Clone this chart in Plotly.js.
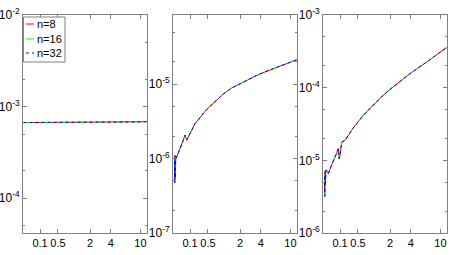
<!DOCTYPE html>
<html>
<head>
<meta charset="utf-8">
<script src="https://cdn.plot.ly/plotly-3.0.1.min.js"></script>
<style>
  html, body { margin: 0; padding: 0; background: #fff; }
  #gd { width: 457px; height: 255px; }
</style>
</head>
<body>
<div id="gd"></div>
<script>
// x quantity is drawn on a log axis of (t + T_SHIFT)
var T_SHIFT = 0.5;
var tickLabels = [0.1, 0.5, 2, 4, 10];

// panel 1: flat error level
var t1 = [-0.125, 0.1, 0.5, 1, 2, 4, 6, 8, 10, 12.5];
var err1 = [6.7e-4, 6.7e-4, 6.7e-4, 6.7e-4, 6.72e-4, 6.75e-4, 6.78e-4, 6.8e-4, 6.82e-4, 6.85e-4];
var yTicks1 = [-4, -3, -2];

// panel 2
var t2 = [-0.115, -0.112, -0.109, -0.106, -0.103, -0.1, -0.09, -0.05, -0.005, 0.02, 0.046,
          0.07, 0.1, 0.14, 0.192, 0.24, 0.299, 0.422, 0.595, 0.8, 1.056, 1.441, 2.011, 2.657,
          3.551, 4.635, 6.012, 8.604, 12.34];
var err2 = [9.0e-7, 4.7e-7, 1.1e-6, 5.5e-7, 8.5e-7, 1.0e-6, 1.05e-6, 1.33e-6, 1.77e-6, 2.07e-6, 1.77e-6,
            1.95e-6, 2.18e-6, 2.5e-6, 2.96e-6, 3.2e-6, 3.61e-6, 4.34e-6, 5.23e-6, 6.23e-6, 7.4e-6,
            8.83e-6, 1.02e-5, 1.16e-5, 1.32e-5, 1.47e-5, 1.62e-5, 1.87e-5, 2.15e-5];
var yTicks2 = [-7, -6, -5];

// panel 3
var t3 = [-0.115, -0.112, -0.108, -0.104, -0.1, -0.09, -0.07, -0.04, -0.005, 0.035, 0.071,
          0.085, 0.1, 0.13, 0.193, 0.277, 0.378, 0.505, 0.669, 0.916, 1.216, 1.555, 2.011,
          2.844, 4.079, 6.012, 8.602, 12.52];
var err3 = [6.0e-6, 3.2e-6, 7.0e-6, 4.5e-6, 7.3e-6, 7.3e-6, 6.6e-6, 8.0e-6, 9.5e-6, 1.2e-5, 1.45e-5,
            1.05e-5, 1.17e-5, 1.79e-5, 1.89e-5, 2.32e-5, 2.81e-5, 3.4e-5, 4.18e-5, 5.21e-5, 6.51e-5,
            7.88e-5, 9.53e-5, 1.23e-4, 1.61e-4, 2.11e-4, 2.76e-4, 3.68e-4];
var yTicks3 = [-6, -5, -4, -3];

// the three resolutions overlap at this scale
var seriesNames = ["n=8", "n=16", "n=32"];
var seriesColors = ["#ff0000", "#00ff00", "#0000ff"];
var seriesDash = ["solid", "dash", "dot"];

var panels = [
  {t: t1, v: err1, yrange: [-4.38, -2], yticks: yTicks1},
  {t: t2, v: err2, yrange: [-7, -4.07], yticks: yTicks2},
  {t: t3, v: err3, yrange: [-6, -3], yticks: yTicks3}
];

var W = 457, H = 255;
var px = function (x) { return x / W; };
var py = function (y) { return 1 - y / H; };

var font = {family: "Liberation Sans, Arial, sans-serif", size: 11, color: "#000"};
var yFont = {family: "Liberation Sans, Arial, sans-serif", size: 12, color: "#000"};
var frame = "#808080";

var traces = [];
panels.forEach(function (p, i) {
  var sfx = i === 0 ? "" : String(i + 1);
  seriesNames.forEach(function (name, k) {
    traces.push({
      type: "scatter",
      mode: "lines",
      name: name,
      x: p.t.map(function (t) { return t + T_SHIFT; }),
      y: p.v,
      xaxis: "x" + sfx,
      yaxis: "y" + sfx,
      line: {color: seriesColors[k], dash: seriesDash[k], width: 1},
      showlegend: false
    });
  });
});

var layout = {
  width: W,
  height: H,
  margin: {l: 0, r: 0, t: 0, b: 0},
  paper_bgcolor: "#fff",
  plot_bgcolor: "#fff",
  showlegend: false,
  font: font,
  shapes: [],
  annotations: []
};

var xLefts = [23, 173, 323];
panels.forEach(function (p, i) {
  var sfx = i === 0 ? "" : String(i + 1);
  layout["xaxis" + sfx] = {
    type: "log",
    domain: [px(xLefts[i]), px(xLefts[i] + 124)],
    anchor: "y" + sfx,
    range: [-0.433, 1.102],
    tickmode: "array",
    tickvals: tickLabels.map(function (t) { return t + T_SHIFT; }),
    ticktext: tickLabels.map(String),
    ticks: "inside", ticklen: 4, tickcolor: frame,
    showline: true, linecolor: frame, linewidth: 1, mirror: "allticks",
    showgrid: false, zeroline: false,
    tickfont: font
  };
  layout["yaxis" + sfx] = {
    type: "log",
    domain: [py(233), py(15)],
    anchor: "x" + sfx,
    range: p.yrange,
    tickmode: "array",
    tickvals: p.yticks.map(function (e) { return Math.pow(10, e); }),
    ticktext: p.yticks.map(function (e) { return "10<sup>" + e + "</sup>"; }),
    ticks: "inside", ticklen: 4, tickcolor: frame,
    minor: {ticks: "inside", ticklen: 2, tickcolor: frame, dtick: "D2"},
    showline: true, linecolor: frame, linewidth: 1, mirror: "allticks",
    showgrid: false, zeroline: false,
    tickfont: yFont
  };
});

// legend box drawn by hand so it stays as compact as the original
layout.shapes.push({
  type: "rect", xref: "paper", yref: "paper",
  x0: px(23.5), x1: px(65), y0: py(62), y1: py(17),
  fillcolor: "#fff", line: {color: frame, width: 1}, layer: "above"
});
var legendRows = [24, 39, 53];
seriesNames.forEach(function (name, k) {
  layout.shapes.push({
    type: "line", xref: "paper", yref: "paper",
    x0: px(26), x1: px(34), y0: py(legendRows[k]), y1: py(legendRows[k]),
    line: {color: seriesColors[k], dash: seriesDash[k], width: 1}, layer: "above"
  });
  layout.annotations.push({
    xref: "paper", yref: "paper",
    x: px(35), y: py(legendRows[k]),
    xanchor: "left", yanchor: "middle",
    text: name, showarrow: false, font: font
  });
});

Plotly.newPlot("gd", traces, layout, {staticPlot: true, displayModeBar: false});
</script>
</body>
</html>
